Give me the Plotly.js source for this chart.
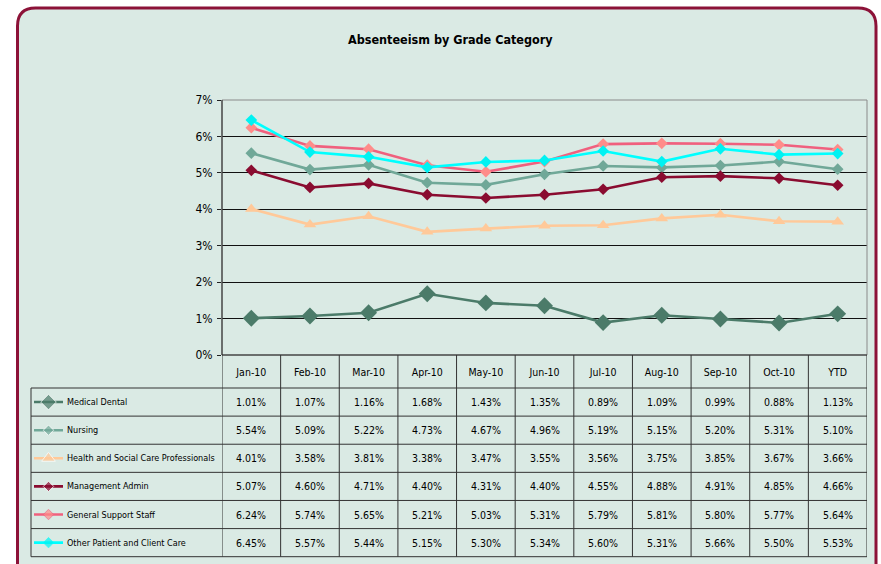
<!DOCTYPE html>
<html><head><meta charset="utf-8">
<script src="https://cdn.plot.ly/plotly-3.0.1.min.js"></script>
<style>html,body{margin:0;padding:0;background:#fff;}#chart{width:881px;height:564px;}</style>
</head><body><div id="chart"></div>
<script>
const months = ["Jan-10","Feb-10","Mar-10","Apr-10","May-10","Jun-10","Jul-10","Aug-10","Sep-10","Oct-10","YTD"];
const seriesNames = ["Medical Dental","Nursing","Health and Social Care Professionals","Management Admin","General Support Staff","Other Patient and Client Care"];
const medicalDental = [1.01,1.07,1.16,1.68,1.43,1.35,0.89,1.09,0.99,0.88,1.13];
const nursing = [5.54,5.09,5.22,4.73,4.67,4.96,5.19,5.15,5.20,5.31,5.10];
const healthSocial = [4.01,3.58,3.81,3.38,3.47,3.55,3.56,3.75,3.85,3.67,3.66];
const managementAdmin = [5.07,4.60,4.71,4.40,4.31,4.40,4.55,4.88,4.91,4.85,4.66];
const generalSupport = [6.24,5.74,5.65,5.21,5.03,5.31,5.79,5.81,5.80,5.77,5.64];
const otherPatient = [6.45,5.57,5.44,5.15,5.30,5.34,5.60,5.31,5.66,5.50,5.53];
const yTicks = [0,1,2,3,4,5,6,7];
const yTickLabels = ["0%","1%","2%","3%","4%","5%","6%","7%"];

const allValues = [medicalDental,nursing,healthSocial,managementAdmin,generalSupport,otherPatient];
const styles = [
  {line:"#4B7B69", marker:"#4B7B69", symbol:"diamond", size:13, key:12},
  {line:"#70A898", marker:"#70A898", symbol:"diamond", size:9, key:8},
  {line:"#FFC999", marker:"#FFC999", symbol:"triangle-up", size:11, key:12},
  {line:"#8A0C30", marker:"#8A0C30", symbol:"diamond", size:9, key:8},
  {line:"#F0607E", marker:"#FF8C8A", symbol:"diamond", size:9, key:8},
  {line:"#00FFFF", marker:"#00F2F2", symbol:"diamond", size:9, key:8}
];

const W = 881, H = 564;
const FONT = "DejaVu Sans Condensed, Liberation Sans, Arial, sans-serif";
const px = v => v / W;
const py = v => 1 - v / H;

const tblTop = 355, hdrBottom = 388, tblBottom = 556.7, legLeft = 31, plotLeft = 222, plotRight = 867;
const rowH = (tblBottom - hdrBottom) / seriesNames.length;

const traces = [];
allValues.forEach((vals, i) => {
  traces.push({
    type: "scatter", mode: "lines+markers", name: seriesNames[i],
    x: months, y: vals, xaxis: "x", yaxis: "y",
    line: {color: styles[i].line, width: 2.6},
    marker: {color: styles[i].marker, symbol: styles[i].symbol, size: styles[i].size},
    showlegend: false, hoverinfo: "skip"
  });
  traces.push({
    type: "scatter", mode: "lines+markers",
    x: [0, 0.5, 1], y: [i + 0.5, i + 0.5, i + 0.5], xaxis: "x2", yaxis: "y2",
    line: {color: styles[i].line, width: 2.6},
    marker: {color: styles[i].marker, symbol: styles[i].symbol, size: [0, styles[i].key, 0]},
    showlegend: false, hoverinfo: "skip"
  });
});

const shapes = [];
const fl = 17.5, ft = 8, fr = 876, fb = 600, rad = 18;
shapes.push({
  type: "path", xref: "paper", yref: "paper", layer: "below",
  path: `M ${px(fl)},${py(fb)} L ${px(fl)},${py(ft+rad)} Q ${px(fl)},${py(ft)} ${px(fl+rad)},${py(ft)} L ${px(fr-rad)},${py(ft)} Q ${px(fr)},${py(ft)} ${px(fr)},${py(ft+rad)} L ${px(fr)},${py(fb)} Z`,
  fillcolor: "#DAEAE4", line: {color: "#8C1238", width: 3}
});
shapes.push({type:"rect", xref:"x domain", yref:"y domain", x0:0, x1:1, y0:0, y1:1, line:{color:"#8a8a8a", width:1}, layer:"above"});
shapes.push({type:"line", xref:"x domain", yref:"y domain", x0:0, x1:0, y0:0, y1:1, line:{color:"#222", width:1}});
shapes.push({type:"line", xref:"x domain", yref:"y domain", x0:0, x1:1, y0:0, y1:0, line:{color:"#222", width:1}});
for (let k = 0; k <= months.length; k++) {
  shapes.push({type:"line", xref:"x", yref:"paper", x0:k-0.5, x1:k-0.5, y0:py(tblTop), y1:py(tblBottom), line:{color:"#333", width:1}});
}
shapes.push({type:"line", xref:"paper", yref:"paper", x0:px(legLeft), x1:px(legLeft), y0:py(hdrBottom), y1:py(tblBottom), line:{color:"#333", width:1}});
for (let r = 0; r <= seriesNames.length; r++) {
  const yy = hdrBottom + r * rowH;
  shapes.push({type:"line", xref:"paper", yref:"paper", x0:px(legLeft), x1:px(plotRight), y0:py(yy), y1:py(yy), line:{color:"#333", width:1}});
}

const annotations = [];
annotations.push({text:"<b>Absenteeism by Grade Category</b>", xref:"paper", yref:"paper", x:px(450), y:py(40), xanchor:"center", yanchor:"middle", showarrow:false, font:{family:FONT, size:12.5, color:"#000"}});
seriesNames.forEach((n, i) => {
  const yc = hdrBottom + (i + 0.5) * rowH;
  annotations.push({text:n, xref:"paper", yref:"paper", x:px(65), y:py(yc), xanchor:"left", yanchor:"middle", showarrow:false, font:{family:FONT, size:9, color:"#000"}});
  allValues[i].forEach((v, j) => {
    annotations.push({text:v.toFixed(2) + "%", xref:"x", yref:"paper", x:months[j], y:py(yc), xanchor:"center", yanchor:"middle", showarrow:false, font:{family:FONT, size:10.5, color:"#000"}});
  });
});

const layout = {
  width: W, height: H, margin: {l:0, r:0, t:0, b:0},
  paper_bgcolor: "#ffffff", plot_bgcolor: "#ffffff",
  showlegend: false,
  xaxis: {
    domain: [px(plotLeft), px(plotRight)], type: "category", range: [-0.5, months.length - 0.5],
    showgrid: false, zeroline: false, showline: false, ticks: "", ticklabelstandoff: 9,
    tickfont: {family: FONT, size: 10.5, color: "#000"}, fixedrange: true
  },
  yaxis: {
    domain: [py(355), py(100)], range: [0, 7], tickmode: "array", tickvals: yTicks, ticktext: yTickLabels,
    showgrid: true, gridcolor: "#111", gridwidth: 1, zeroline: false, showline: false,
    ticks: "outside", ticklen: 4, tickcolor: "#222", ticklabelstandoff: 2,
    tickfont: {family: FONT, size: 12, color: "#000"}, fixedrange: true
  },
  xaxis2: {domain: [px(34), px(63)], range: [0, 1], visible: false, fixedrange: true, anchor: "y2"},
  yaxis2: {domain: [py(tblBottom), py(hdrBottom)], range: [seriesNames.length, 0], visible: false, fixedrange: true, anchor: "x2"},
  shapes: shapes, annotations: annotations
};

Plotly.newPlot("chart", traces, layout, {displayModeBar: false, staticPlot: true});
</script></body></html>
